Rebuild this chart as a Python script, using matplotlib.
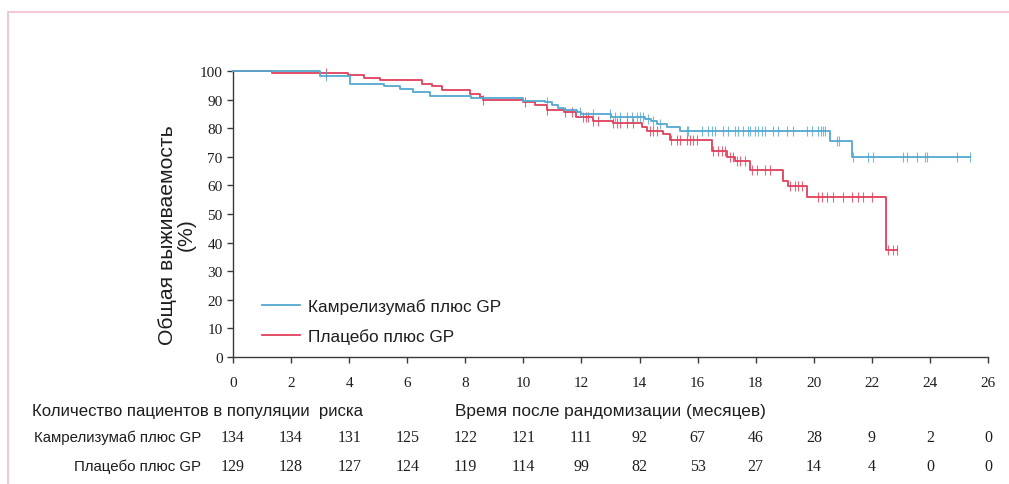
import numpy as np
import matplotlib
matplotlib.use("Agg")
import matplotlib.pyplot as plt
import matplotlib.transforms as mtransforms
from matplotlib.patches import Rectangle

# ---------------- data ----------------
cam_label = "Камрелизумаб плюс GP"
pla_label = "Плацебо плюс GP"

cam_event_t = [3.0, 4.03, 5.2, 5.75, 6.2, 6.8, 8.2, 10.0, 10.75, 11.0, 11.2, 11.4,
               11.85, 12.0, 13.0, 14.2, 14.4, 14.6, 14.95, 15.4, 20.55, 21.3]
cam_event_s = [98.3, 95.5, 94.6, 93.8, 92.6, 91.2, 90.4, 89.6, 89.0, 88.0, 87.2, 86.5,
               85.7, 85.0, 84.0, 83.2, 82.4, 81.6, 80.4, 79.0, 75.5, 70.0]
cam_end = 25.38
cam_censor = [3.2, 10.8, 11.95, 12.41, 12.98, 13.15, 13.33, 13.56, 13.73, 13.9, 14.01,
              14.13, 14.3, 14.47, 14.7, 15.62, 15.68, 16.14, 16.37, 16.48, 16.6, 16.88,
              17.06, 17.29, 17.4, 17.57, 17.74, 17.8, 17.98, 18.09, 18.2, 18.32, 18.6,
              18.78, 19.07, 19.3, 19.75, 19.93, 20.16, 20.24, 20.31, 20.39, 20.79, 20.88,
              21.36, 21.88, 22.05, 23.08, 23.2, 23.54, 23.83, 23.89, 24.92, 25.38]

pla_event_t = [1.34, 3.96, 4.5, 5.06, 6.5, 6.85, 7.2, 8.15, 8.5, 8.6, 10.0, 10.4, 10.8,
               11.4, 11.8, 12.4, 13.1, 14.1, 14.25, 14.8, 15.05, 16.5, 17.0, 17.3, 17.8,
               18.95, 19.1, 19.75, 22.5]
pla_event_s = [99.3, 98.6, 97.6, 96.9, 95.5, 94.7, 93.4, 92.0, 91.0, 89.8, 89.2, 88.0, 86.5,
               85.5, 84.0, 82.6, 81.8, 80.4, 79.0, 78.0, 76.0, 72.0, 70.0, 68.5, 65.5,
               61.5, 59.8, 56.0, 37.5]
pla_end = 22.88
pla_censor = [3.2, 8.62, 10.06, 10.8, 11.43, 11.66, 12.06, 12.16, 12.24, 12.41, 12.58,
              13.1, 13.21, 13.33, 13.56, 13.79, 14.36, 14.47, 14.59, 15.1, 15.28, 15.39,
              15.62, 15.74, 15.85, 15.97, 16.54, 16.71, 16.83, 16.94, 17.11, 17.23, 17.34,
              17.46, 17.63, 17.86, 18.03, 18.32, 18.49, 19.18, 19.35, 19.47, 19.58, 20.16,
              20.27, 20.44, 20.67, 21.02, 21.3, 21.53, 21.7, 21.99, 22.57, 22.74, 22.88]

x_ticks = list(range(0, 27, 2))
y_ticks = list(range(0, 101, 10))
risk_times = list(range(0, 27, 2))
risk_cam = [134, 134, 131, 125, 122, 121, 111, 92, 67, 46, 28, 9, 2, 0]
risk_pla = [129, 128, 127, 124, 119, 114, 99, 82, 53, 27, 14, 4, 0, 0]

# ---------------- style ----------------
SANS = ["Liberation Sans", "DejaVu Sans"]
SERIF = ["Liberation Serif", "DejaVu Serif"]
BLUE = "#52a9d0"
RED = "#e0405a"
TXT = "#1e1e1e"
AX = "#3a3a3a"

W, H = 1009, 485
fig = plt.figure(figsize=(W / 100, H / 100), dpi=100)
fig.patch.set_facecolor("white")

# pink frame of the screenshot
fig.patches.append(Rectangle((8 / W, -0.1), 1.2, 1 - 13 / H + 0.1, transform=fig.transFigure,
                             fill=False, edgecolor="#f3bccb", linewidth=1.2))

ax = fig.add_axes([233 / W, 1 - 358 / H, (988 - 233) / W, (358 - 72) / H])
ax.set_xlim(0, 26)
ax.set_ylim(0, 100)


def km(ev_t, ev_s, end):
    t = np.concatenate([[0.0], ev_t, [end]])
    s = np.concatenate([[100.0], ev_s, [ev_s[-1]]])
    return t, s


def surv_at(ev_t, ev_s, c):
    idx = np.searchsorted(np.asarray(ev_t), np.asarray(c), side="right")
    s = np.concatenate([[100.0], ev_s])
    return s[idx]


for ev_t, ev_s, end, cens, col, lab, z in [
    (pla_event_t, pla_event_s, pla_end, pla_censor, RED, pla_label, 3),
    (cam_event_t, cam_event_s, cam_end, cam_censor, BLUE, cam_label, 4),
]:
    t, s = km(ev_t, ev_s, end)
    ax.step(t, s, where="post", color=col, lw=1.3, label=lab, clip_on=False, zorder=z)
    ax.plot(cens, surv_at(ev_t, ev_s, cens), ls="none", marker="|", ms=7, mew=0.8,
            color=col, alpha=0.8, clip_on=False, zorder=z)

for sp in ["top", "right"]:
    ax.spines[sp].set_visible(False)
for sp in ["left", "bottom"]:
    ax.spines[sp].set_color(AX)
    ax.spines[sp].set_linewidth(1.0)

ax.set_xticks(x_ticks)
ax.set_yticks(y_ticks)
ax.tick_params(direction="out", length=4.5, width=1, color=AX, labelcolor=TXT)
ax.tick_params(axis="x", pad=9)
ax.tick_params(axis="y", pad=3)
for lbl in ax.get_xticklabels() + ax.get_yticklabels():
    lbl.set_fontfamily(SERIF)
    lbl.set_fontsize(11)

ax.set_xlabel("Время после рандомизации (месяцев)", fontfamily=SANS, fontsize=12.4,
              color=TXT, labelpad=10)
ax.set_ylabel("Общая выживаемость\n(%)", fontfamily=SANS, fontsize=15.2, color=TXT,
              linespacing=1.0)
ax.yaxis.label.set_verticalalignment("center")
ax.yaxis.set_label_coords((177 - 233) / 755, 1 - (235 - 72) / 286)

# legend order: Camrelizumab first
handles, labels = ax.get_legend_handles_labels()
leg = ax.legend(handles[::-1], labels[::-1], loc="upper left",
                bbox_to_anchor=((262 - 233) / 755, 1 - (299 - 72) / 286),
                frameon=False, borderpad=0, borderaxespad=0, handlelength=2.2,
                handletextpad=0.5, labelspacing=0.85,
                prop={"family": SANS, "size": 12.4})
for tx in leg.get_texts():
    tx.set_color(TXT)

# risk table
tr = mtransforms.blended_transform_factory(ax.transData, fig.transFigure)
fig.text(32 / W, 1 - 412 / H, "Количество пациентов в популяции  риска", fontfamily=SANS,
         fontsize=12.1, color=TXT, ha="left", va="center")
fig.text(201 / W, 1 - 438 / H, cam_label, fontfamily=SANS, fontsize=10.8,
         color=TXT, ha="right", va="center")
fig.text(201 / W, 1 - 467 / H, pla_label, fontfamily=SANS, fontsize=10.8,
         color=TXT, ha="right", va="center")
for t, a, b in zip(risk_times, risk_cam, risk_pla):
    ax.text(t, 1 - 438 / H, str(a), transform=tr, fontfamily=SERIF, fontsize=11.5,
            color=TXT, ha="center", va="center")
    ax.text(t, 1 - 467 / H, str(b), transform=tr, fontfamily=SERIF, fontsize=11.5,
            color=TXT, ha="center", va="center")

fig.savefig("out.png", dpi=100)
